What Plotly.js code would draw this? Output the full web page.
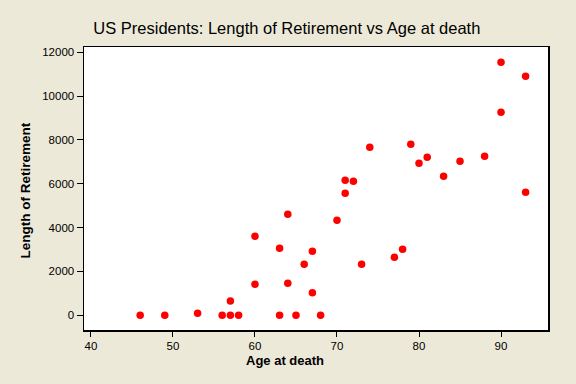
<!DOCTYPE html>
<html>
<head>
<meta charset="utf-8">
<script src="https://cdn.plot.ly/plotly-3.0.1.min.js"></script>
<style>
html,body{margin:0;padding:0;background:#ECE9D8;}
#chart{width:576px;height:384px;}
</style>
</head>
<body>
<div id="chart"></div>
<script>
const ageAtDeath = [46,49,53,56,57,57,58,60,60,63,63,64,64,65,66,67,67,68,70,71,71,72,73,74,77,78,79,80,81,83,85,88,90,90,93,93];
const retirementLength = [0,0,90,0,0,650,0,1414,3605,0,3057,4608,1460,0,2327,2920,1030,0,4334,6160,5566,6114,2327,7665,2646,3011,7802,6935,7209,6342,7026,7255,11543,9262,10905,5612];
const xTicks = [40,50,60,70,80,90];
const yTicks = [0,2000,4000,6000,8000,10000,12000];

const titleText = "US Presidents: Length of Retirement vs Age at death";
const xTitle = "Age at death";
const yTitle = "Length of Retirement";

const trace = {
  x: ageAtDeath,
  y: retirementLength,
  type: "scatter",
  mode: "markers",
  marker: {color: "#FF0000", size: 7.5, line: {width: 0}},
  hoverinfo: "x+y"
};

const tickFont = {family: "Liberation Sans, Arial, sans-serif", size: 11.5, color: "#000"};
const axTitleFont = {family: "Liberation Sans, Arial, sans-serif", size: 13, color: "#000"};

const layout = {
  width: 576, height: 384,
  paper_bgcolor: "#ECE9D8",
  plot_bgcolor: "#FFFFFF",
  margin: {l: 84, r: 28, t: 47, b: 54, pad: 0},
  showlegend: false,
  title: {
    text: titleText,
    font: {family: "Liberation Sans, Arial, sans-serif", size: 16.5, color: "#000"},
    xref: "container", x: 0.498, xanchor: "center",
    yref: "container", y: 0.927, yanchor: "middle"
  },
  xaxis: {
    range: [39.15, 95.73],
    tickvals: xTicks,
    ticktext: xTicks.map(String),
    ticks: "outside", ticklen: 5, tickwidth: 1, tickcolor: "#000",
    showline: true, linecolor: "#000", linewidth: 1.5, mirror: true,
    showgrid: false, zeroline: false,
    tickfont: tickFont
  },
  yaxis: {
    range: [-671, 12242],
    tickvals: yTicks,
    ticktext: yTicks.map(String),
    ticks: "outside", ticklen: 6, tickwidth: 1, tickcolor: "#000",
    showline: true, linecolor: "#000", linewidth: 1.5, mirror: true,
    showgrid: false, zeroline: false,
    tickfont: tickFont
  },
  annotations: [
    {text: "<b>" + xTitle + "</b>", xref: "paper", yref: "paper", x: 0.4332, y: -0.1095,
     xanchor: "center", yanchor: "middle", showarrow: false, font: axTitleFont},
    {text: "<b>" + yTitle + "</b>", xref: "paper", yref: "paper", x: -0.125, y: 0.4929,
     xanchor: "center", yanchor: "middle", showarrow: false, textangle: -90,
     font: {family: axTitleFont.family, size: 13.5, color: "#000"}}
  ]
};

Plotly.newPlot("chart", [trace], layout, {displayModeBar: false, staticPlot: true});
</script>
</body>
</html>
